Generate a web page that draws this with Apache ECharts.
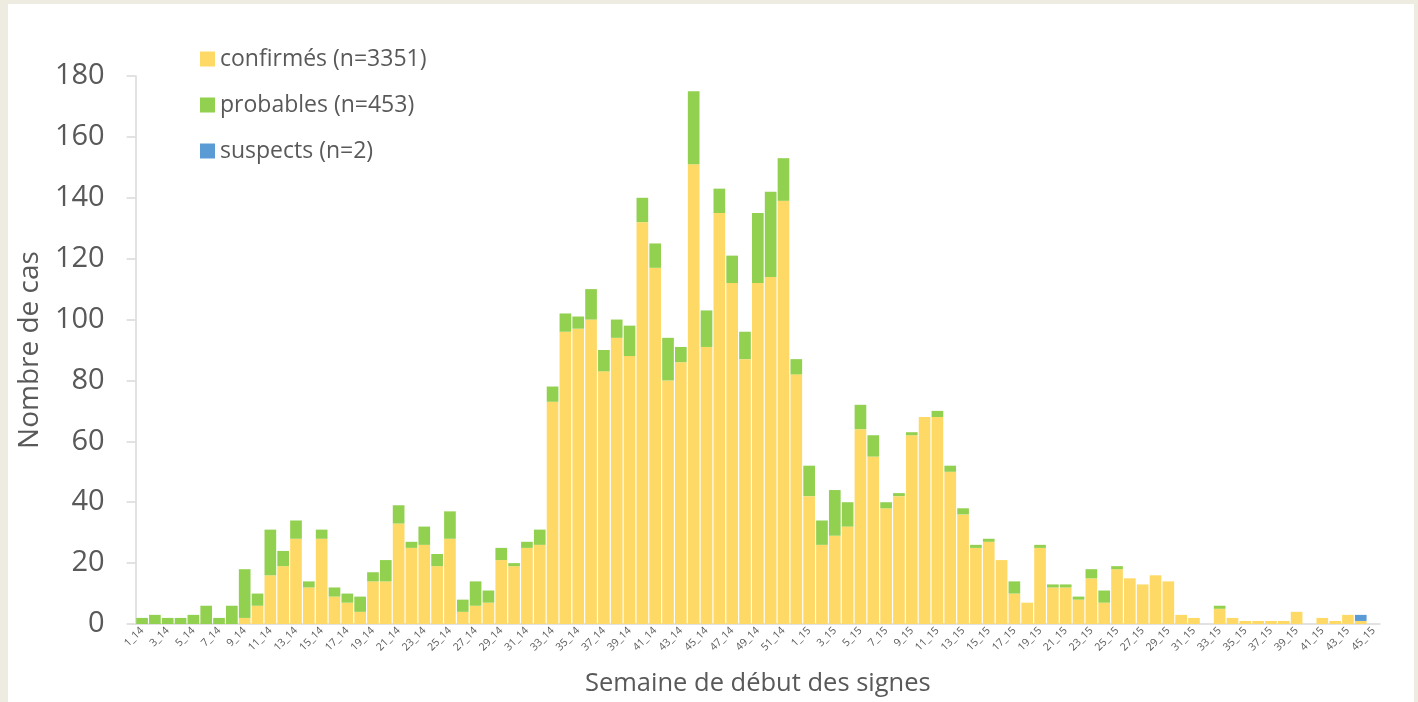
<!DOCTYPE html>
<html>
<head>
<meta charset="utf-8">
<script src="https://cdn.jsdelivr.net/npm/echarts@6/dist/echarts.min.js"></script>
<style>
  html, body { margin: 0; padding: 0; background: #eeece1; width: 1418px; height: 702px; overflow: hidden; }
  #c { position: absolute; left: 8px; top: 4px; width: 1406px; height: 698px; background: #ffffff; }
</style>
</head>
<body>
<div id="c"></div>
<script>
// Categories: epidemiological weeks 1_14 .. 52_14, 1_15 .. 45_15
const weeks = [];
for (let w = 1; w <= 52; w++) weeks.push(w + '_14');
for (let w = 1; w <= 45; w++) weeks.push(w + '_15');

const confirmes = [
  0, 0, 0, 0, 0, 0, 0, 0, 2, 6,
  16, 19, 28, 12, 28, 9, 7, 4, 14, 14,
  33, 25, 26, 19, 28, 4, 6, 7, 21, 19,
  25, 26, 73, 96, 97, 100, 83, 94, 88, 132,
  117, 80, 86, 151, 91, 135, 112, 87, 112, 114,
  139, 82,
  42, 26, 29, 32, 64, 55, 38, 42, 62, 68,
  68, 50, 36, 25, 27, 21, 10, 7, 25, 12,
  12, 8, 15, 7, 18, 15, 13, 16, 14, 3,
  2, 0, 5, 2, 1, 1, 1, 1, 4, 0,
  2, 1, 3, 1, 0
];

const probables = [
  2, 3, 2, 2, 3, 6, 2, 6, 16, 4,
  15, 5, 6, 2, 3, 3, 3, 5, 3, 7,
  6, 2, 6, 4, 9, 4, 8, 4, 4, 1,
  2, 5, 5, 6, 4, 10, 7, 6, 10, 8,
  8, 14, 5, 24, 12, 8, 9, 9, 23, 28,
  14, 5,
  10, 8, 15, 8, 8, 7, 2, 1, 1, 0,
  2, 2, 2, 1, 1, 0, 4, 0, 1, 1,
  1, 1, 3, 4, 1, 0, 0, 0, 0, 0,
  0, 0, 1, 0, 0, 0, 0, 0, 0, 0,
  0, 0, 0, 0, 0
];

const suspects = [
  0, 0, 0, 0, 0, 0, 0, 0, 0, 0,
  0, 0, 0, 0, 0, 0, 0, 0, 0, 0,
  0, 0, 0, 0, 0, 0, 0, 0, 0, 0,
  0, 0, 0, 0, 0, 0, 0, 0, 0, 0,
  0, 0, 0, 0, 0, 0, 0, 0, 0, 0,
  0, 0,
  0, 0, 0, 0, 0, 0, 0, 0, 0, 0,
  0, 0, 0, 0, 0, 0, 0, 0, 0, 0,
  0, 0, 0, 0, 0, 0, 0, 0, 0, 0,
  0, 0, 0, 0, 0, 0, 0, 0, 0, 0,
  0, 0, 0, 2, 0
];

const seriesNames = ['confirmés (n=3351)', 'probables (n=453)', 'suspects (n=2)'];
const yTicks = { min: 0, max: 180, interval: 20 };

const FONT = '"Open Sans", "Liberation Sans", sans-serif';
const TXT = '#595959';
const AXIS = '#d9d9d9';

const chart = echarts.init(document.getElementById('c'), null, { renderer: 'canvas' });

function bar(name, data, color) {
  return {
    name: name, type: 'bar', stack: 'cas', data: data,
    barCategoryGap: '9%', itemStyle: { color: color },
    emphasis: { disabled: true }, animation: false
  };
}

chart.setOption({
  animation: false,
  textStyle: { fontFamily: FONT },
  legend: {
    orient: 'vertical', left: 187, top: 35,
    itemWidth: 15, itemHeight: 15, itemGap: 16,
    icon: 'rect', selectedMode: false,
    textStyle: { fontFamily: FONT, fontSize: 23, color: TXT, lineHeight: 30 },
    data: seriesNames
  },
  grid: { left: 121, right: 34, top: 72, bottom: 75, containLabel: false },
  xAxis: {
    type: 'category', data: weeks,
    name: 'Semaine de début des signes', nameLocation: 'middle', nameGap: 47,
    nameTextStyle: { fontFamily: FONT, fontSize: 25.5, color: TXT },
    axisLine: { show: true, lineStyle: { color: AXIS, width: 1.5 } },
    axisTick: { show: false },
    axisLabel: { interval: 1, rotate: 45, fontSize: 10.5, color: TXT, margin: 5, fontFamily: FONT }
  },
  yAxis: {
    type: 'value', min: yTicks.min, max: yTicks.max, interval: yTicks.interval,
    name: 'Nombre de cas', nameLocation: 'middle', nameGap: 72,
    nameTextStyle: { fontFamily: FONT, fontSize: 28, color: TXT },
    axisLine: { show: true, lineStyle: { color: AXIS, width: 1.5 } },
    axisTick: { show: true, length: 9, lineStyle: { color: AXIS, width: 1.5 } },
    splitLine: { show: false },
    axisLabel: { fontSize: 29, color: TXT, margin: 31, fontFamily: FONT }
  },
  series: [
    bar(seriesNames[0], confirmes, '#FFD966'),
    bar(seriesNames[1], probables, '#92D050'),
    bar(seriesNames[2], suspects, '#5B9BD5')
  ]
});
</script>
</body>
</html>
